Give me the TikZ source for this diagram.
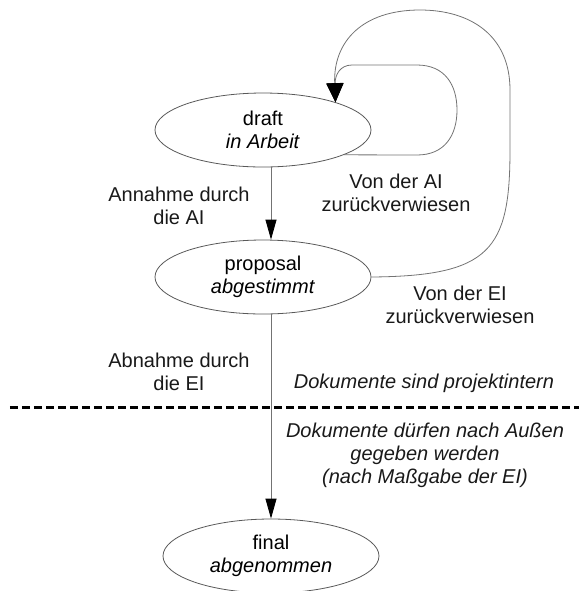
\documentclass[tikz,border=0pt]{standalone}
\usepackage{fontspec}
\setmainfont{Liberation Sans}
\usepackage{tikz}
\usetikzlibrary{arrows.meta}
\usetikzlibrary{shapes}

\begin{document}
\begin{tikzpicture}[x=0.5pt, y=-0.5pt,
    font=\fontsize{10}{11.5}\selectfont,
    state/.style={ellipse, draw=black!65, line width=0.4pt, minimum width=108pt, minimum height=37pt, inner sep=0pt, align=center},
    flow/.style={draw=black!55, line width=0.4pt, -{Triangle[length=10pt,width=5.5pt,black]}},
    back/.style={draw=black!55, line width=0.4pt, -{Triangle[length=9.5pt,width=8.5pt,black]}},
    lbl/.style={align=center, text=black!90}]
  \useasboundingbox (0,0) rectangle (579,591);

  % states
  \node[state] (draft) at (263,130) {draft\\\textit{in Arbeit}};
  \node[state] (proposal) at (263,277) {proposal\\\textit{abgestimmt}};
  \node[state] (final) at (271,556) {final\\\textit{abgenommen}};

  % forward
  \draw[flow] (draft.south -| final) -- (proposal.north -| final);
  \draw[flow] (proposal.south -| final) -- (final.north);

  % back to draft
  \draw[back] (draft.-17) -- (417,155) .. controls (445,155) and (457,135) .. (457,110)
        .. controls (457,85) and (445,65) .. (417,65) -- (352,65)
        .. controls (340,65) and (335,75) .. (draft.21);
  \draw[back] (proposal.east) .. controls (490,276) and (510,250) .. (510,150) -- (510,90)
        .. controls (510,35) and (470,10) .. (420,10)
        .. controls (362,10) and (333,42) .. (draft.21);

  \draw[line width=1.5pt, dash pattern=on 4pt off 2pt] (10,407) -- (579,407);

  \node[lbl] (acceptAI) at (179,206) {Annahme durch\\die AI};
  \node[lbl] (rejectAI) at (396,193) {Von der AI\\zurückverwiesen};
  \node[lbl] (rejectEI) at (460,305) {Von der EI\\zurückverwiesen};
  \node[lbl] (acceptEI) at (179,372) {Abnahme durch\\die EI};
  \node[lbl] (internal) at (424,383) {\textit{Dokumente sind projektintern}};
  \node[lbl] (external) at (425,455) {\textit{Dokumente dürfen nach Außen}\\\textit{gegeben werden}\\\textit{(nach Maßgabe der EI)}};
\end{tikzpicture}
\end{document}
